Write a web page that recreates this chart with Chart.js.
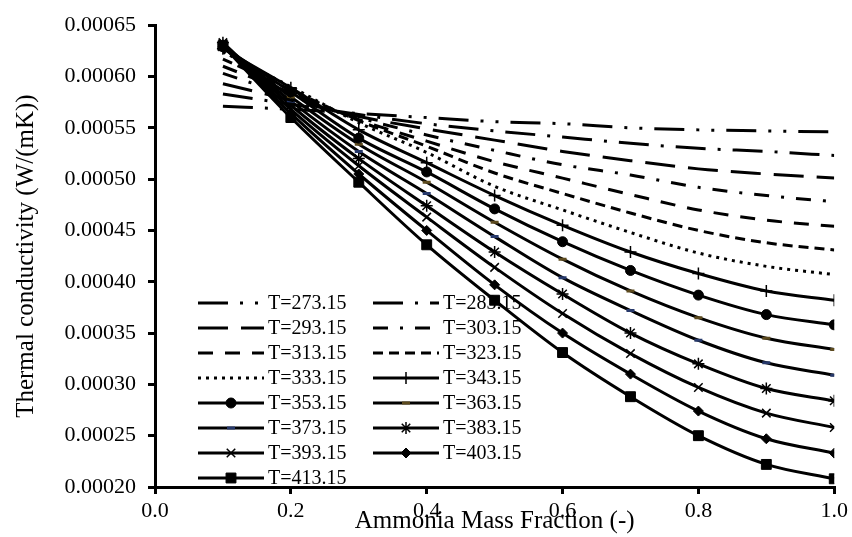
<!DOCTYPE html>
<html>
<head>
<meta charset="utf-8">
<script src="https://cdn.jsdelivr.net/npm/chart.js@4.4.1/dist/chart.umd.min.js"></script>
<style>
html,body{margin:0;padding:0;background:#ffffff;}
#wrap{width:852px;height:537px;position:relative;}
</style>
</head>
<body>
<div id="wrap"><canvas id="c" width="852" height="537"></canvas></div>
<script>
// ---------- data ----------
const massFraction = [0.1, 0.2, 0.3, 0.4, 0.5, 0.6, 0.7, 0.8, 0.9, 1.0];
const xTickValues = [0.0, 0.2, 0.4, 0.6, 0.8, 1.0];
const yTickValues = [0.00020, 0.00025, 0.00030, 0.00035, 0.00040, 0.00045, 0.00050, 0.00055, 0.00060, 0.00065];
const seriesNames = ['T=273.15','T=283.15','T=293.15','T=303.15','T=313.15','T=323.15','T=333.15',
                     'T=343.15','T=353.15','T=363.15','T=373.15','T=383.15','T=393.15','T=403.15','T=413.15'];
const k273 = [0.000571, 0.000568, 0.000564, 0.000560, 0.000556, 0.000554, 0.000550, 0.000548, 0.000547, 0.000546];
const k283 = [0.000583, 0.000573, 0.000563, 0.000554, 0.000547, 0.000541, 0.000535, 0.000530, 0.000527, 0.000523];
const k293 = [0.000593, 0.000577, 0.000561, 0.000549, 0.000538, 0.000527, 0.000518, 0.000510, 0.000505, 0.000501];
const k303 = [0.000603, 0.000581, 0.000560, 0.000543, 0.000528, 0.000514, 0.000504, 0.000492, 0.000484, 0.000478];
const k313 = [0.000610, 0.000584, 0.000558, 0.000537, 0.000517, 0.000501, 0.000485, 0.000470, 0.000460, 0.000454];
const k323 = [0.000617, 0.000587, 0.000557, 0.000532, 0.000506, 0.000486, 0.000467, 0.000450, 0.000438, 0.000431];
const k333 = [0.000624, 0.000590, 0.000555, 0.000526, 0.000493, 0.000470, 0.000448, 0.000428, 0.000415, 0.000407];
const k343 = [0.000627, 0.000589, 0.000548, 0.000516, 0.000484, 0.000455, 0.000429, 0.000408, 0.000391, 0.000382];
const k353 = [0.000629, 0.000585, 0.000540, 0.000507, 0.000471, 0.000439, 0.000411, 0.000387, 0.000368, 0.000358];
const k363 = [0.000630, 0.000580, 0.000534, 0.000497, 0.000458, 0.000422, 0.000391, 0.000365, 0.000345, 0.000334];
const k373 = [0.000631, 0.000576, 0.000527, 0.000486, 0.000444, 0.000404, 0.000372, 0.000343, 0.000321, 0.000309];
const k383 = [0.000633, 0.000572, 0.000520, 0.000474, 0.000429, 0.000388, 0.000350, 0.000320, 0.000296, 0.000284];
const k393 = [0.000632, 0.000568, 0.000513, 0.000463, 0.000414, 0.000369, 0.000330, 0.000297, 0.000272, 0.000258];
const k403 = [0.000631, 0.000564, 0.000505, 0.000450, 0.000397, 0.000350, 0.000310, 0.000274, 0.000247, 0.000233];
const k413 = [0.000630, 0.000560, 0.000497, 0.000436, 0.000382, 0.000331, 0.000288, 0.000250, 0.000222, 0.000208];
const seriesValues = [k273,k283,k293,k303,k313,k323,k333,k343,k353,k363,k373,k383,k393,k403,k413];

// ---------- styles ----------
const styles = [
  {dash:[30,12,3,12,3,12], ps:false},
  {dash:[30,12,3,12], ps:false},
  {dash:[30,13], ps:false},
  {dash:[15,12,3,12], ps:false},
  {dash:[15,12], ps:false},
  {dash:[10,6], ps:false},
  {dash:[3,5], ps:false},
  {dash:[], ps:'cross', r:6, bw:1.5, bc:'#000', bg:'#000'},
  {dash:[], ps:'circle', r:5, bw:1, bc:'#000', bg:'#000'},
  {dash:[], ps:'line', r:4, bw:3, bc:'#5c4a1e', bg:'#5c4a1e'},
  {dash:[], ps:'line', r:4, bw:3, bc:'#26386a', bg:'#26386a'},
  {dash:[], ps:'star', r:6, bw:1.5, bc:'#000', bg:'#000'},
  {dash:[], ps:'crossRot', r:6, bw:1.5, bc:'#000', bg:'#000'},
  {dash:[], ps:'rectRot', r:5, bw:1, bc:'#000', bg:'#000'},
  {dash:[], ps:'rect', r:7, bw:1, bc:'#000', bg:'#000'}
];

const datasets = seriesNames.map((name, i) => {
  const s = styles[i];
  return {
    label: name,
    data: massFraction.map((x, j) => ({x: x, y: seriesValues[i][j]})),
    borderColor: '#000',
    backgroundColor: '#000',
    borderWidth: 3,
    borderDash: s.dash,
    borderCapStyle: 'butt',
    borderJoinStyle: 'round',
    cubicInterpolationMode: 'monotone',
    pointStyle: s.ps || 'circle',
    pointRadius: s.ps ? s.r : 0,
    pointBorderWidth: s.ps ? s.bw : 0,
    pointBorderColor: s.bc || '#000',
    pointBackgroundColor: s.bg || '#000',
    fill: false
  };
});

const FONT = '"Liberation Serif", "Times New Roman", serif';

// legend drawn in two columns inside the plot area
const legendPlugin = {
  id: 'inlineLegend',
  beforeDatasetsDraw(chart) {
    const ctx = chart.ctx;
    const colX = [198, 373];
    const lineW = 66;
    const rowY0 = 303, rowStep = 25;
    ctx.save();
    seriesNames.forEach((name, i) => {
      const col = i % 2, row = Math.floor(i / 2);
      const x0 = colX[col], y = rowY0 + row * rowStep;
      const s = styles[i];
      ctx.strokeStyle = '#000';
      ctx.lineWidth = 3;
      ctx.lineCap = 'butt';
      ctx.setLineDash(s.dash);
      ctx.beginPath();
      ctx.moveTo(x0, y);
      ctx.lineTo(x0 + lineW, y);
      ctx.stroke();
      ctx.setLineDash([]);
      if (s.ps) {
        ctx.strokeStyle = s.bc;
        ctx.fillStyle = s.bg;
        ctx.lineWidth = s.bw;
        Chart.helpers.drawPoint(ctx, {pointStyle: s.ps, radius: s.r, borderWidth: s.bw, rotation: 0}, x0 + lineW / 2, y);
      }
      ctx.fillStyle = '#000';
      ctx.font = '20px ' + FONT;
      ctx.textBaseline = 'middle';
      ctx.textAlign = 'left';
      ctx.fillText(name, x0 + lineW + 4, y + 1);
    });
    ctx.restore();
  }
};

new Chart(document.getElementById('c'), {
  type: 'line',
  data: { datasets: datasets },
  plugins: [legendPlugin],
  options: {
    responsive: false,
    animation: false,
    devicePixelRatio: 1,
    layout: { padding: { left: 0, right: 17, top: 19, bottom: 0 } },
    plugins: { legend: { display: false }, tooltip: { enabled: false } },
    scales: {
      x: {
        type: 'linear',
        min: 0, max: 1,
        afterBuildTicks: (scale) => { scale.ticks = xTickValues.map(v => ({value: v})); },
        afterFit: (scale) => { scale.height = 50; },
        border: { display: true, color: '#000', width: 3 },
        grid: { drawOnChartArea: false, drawTicks: true, tickLength: 7, color: '#000', lineWidth: 3 },
        ticks: { color: '#000', font: { family: FONT, size: 22 }, padding: 4,
                 callback: (v) => Number(v).toFixed(1), maxRotation: 0 },
        title: { display: true, text: 'Ammonia Mass Fraction (-)', color: '#000',
                 font: { family: FONT, size: 25 }, padding: { top: 0, bottom: 1 } }
      },
      y: {
        type: 'linear',
        min: 0.0002, max: 0.00065,
        afterBuildTicks: (scale) => { scale.ticks = yTickValues.map(v => ({value: v})); },
        afterFit: (scale) => { scale.width = 155; },
        border: { display: true, color: '#000', width: 3 },
        grid: { drawOnChartArea: false, drawTicks: true, tickLength: 7, color: '#000', lineWidth: 3 },
        ticks: { color: '#000', font: { family: FONT, size: 22 }, padding: 12,
                 callback: (v) => Number(v).toFixed(5) },
        title: { display: true, text: 'Thermal conductivity (W/(mK))', color: '#000',
                 font: { family: FONT, size: 25 }, padding: { top: 11, bottom: 0 } }
      }
    }
  }
});
</script>
</body>
</html>
